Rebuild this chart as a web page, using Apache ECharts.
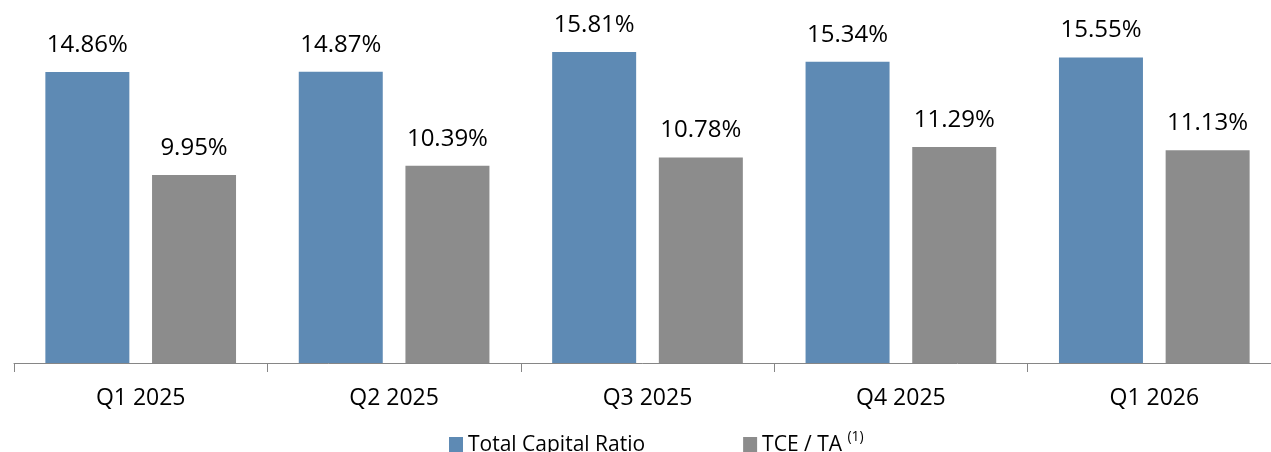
<!DOCTYPE html>
<html><head><meta charset="utf-8">
<script src="https://cdn.jsdelivr.net/npm/echarts@6/dist/echarts.min.js"></script>
<style>html,body{margin:0;padding:0;background:#fff}#c{width:1271px;height:452px}</style>
</head><body><div id="c"></div>
<script>
var categories = ['Q1 2025', 'Q2 2025', 'Q3 2025', 'Q4 2025', 'Q1 2026'];
var totalCapitalRatio = [14.86, 14.87, 15.81, 15.34, 15.55];
var tceTa = [9.95, 10.39, 10.78, 11.29, 11.13];
var seriesNames = ['Total Capital Ratio', 'TCE / TA'];

var chart = echarts.init(document.getElementById('c'));
var labelCfg = {
  show: true, position: 'top', distance: 15,
  fontFamily: 'Open Sans', fontSize: 24, color: '#000',
  formatter: function (p) { return p.value.toFixed(2) + '%'; }
};
chart.setOption({
  animation: false,
  grid: { left: 14, width: 1267, top: 48, height: 315, containLabel: false, outerBoundsMode: 'none' },
  xAxis: {
    type: 'category', data: categories,
    axisLine: { lineStyle: { color: '#868686', width: 1 } },
    axisTick: { show: true, length: 9, lineStyle: { color: '#868686' } },
    axisLabel: { fontFamily: 'Open Sans', fontSize: 23, color: '#000', margin: 24 }
  },
  yAxis: { type: 'value', min: 1, max: 16, show: false, splitLine: { show: false } },
  legend: {
    top: 430, left: 449, itemWidth: 14, itemHeight: 16, itemGap: 98,
    icon: 'rect', padding: 0,
    textStyle: {
      fontFamily: 'Open Sans', fontSize: 21, color: '#000',
      rich: {
        n: { fontFamily: 'Open Sans', fontSize: 21, color: '#000' },
        s: { fontFamily: 'Open Sans', fontSize: 14, color: '#000', verticalAlign: 'top', padding: [0, 0, 16, 0] }
      }
    },
    formatter: function (name) {
      return name === 'TCE / TA' ? '{n|TCE / TA }{s|(1)}' : name;
    },
    data: seriesNames
  },
  series: [
    { name: seriesNames[0], type: 'bar', data: totalCapitalRatio, barWidth: 84, barGap: '27%',
      itemStyle: { color: '#5E8AB4' }, label: labelCfg },
    { name: seriesNames[1], type: 'bar', data: tceTa, barWidth: 84,
      itemStyle: { color: '#8C8C8C' }, label: labelCfg }
  ]
});
</script></body></html>
